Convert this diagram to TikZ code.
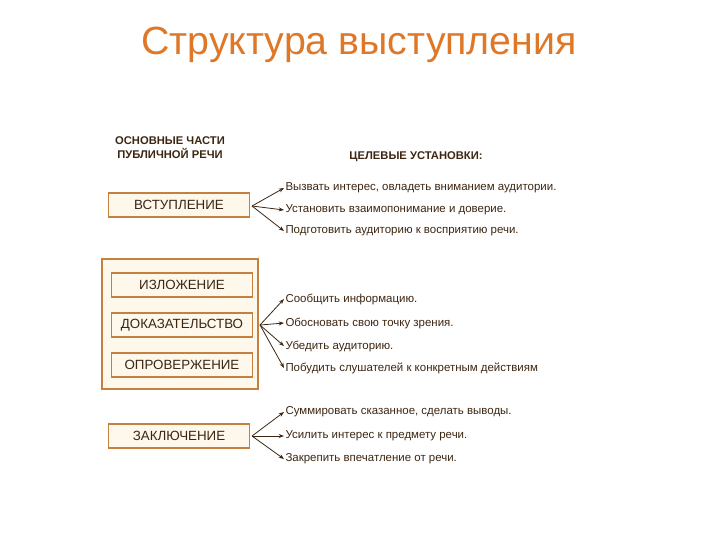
\documentclass[tikz,border=0pt]{standalone}
\usepackage{fontspec}
\setmainfont{Liberation Sans}
\usetikzlibrary{arrows.meta}
\definecolor{boxline}{RGB}{196,128,62}
\definecolor{boxfill}{RGB}{253,247,236}
\definecolor{txt}{RGB}{60,38,18}
\definecolor{titleorange}{RGB}{222,120,40}
\tikzset{every picture/.style={line width=0.75pt}}
\tikzset{
  part/.style={draw=boxline, fill=boxfill, line width=1.2pt, minimum width=106pt, minimum height=18pt, inner sep=0.75pt, text=txt, font=\fontsize{10}{12}\selectfont},
  goal/.style={anchor=west, inner sep=0.75pt, text=txt, font=\fontsize{8.6}{10}\selectfont},
  fan/.style={draw=txt, line width=0.6pt, -{Stealth[length=4pt,width=3pt]}}
}
\begin{document}
\begin{tikzpicture}[x=0.75pt,y=0.75pt,yscale=-1,xscale=1]
	\path (0,0) rectangle (720,540);
	
	% Title
	\node (title) at (359,45) [inner sep=0.75pt, text=titleorange, font=\fontsize{29.5}{34}\selectfont] {Структура выступления};
	
	% Headers
	\node (hparts) at (170,148) [inner sep=0.75pt, align=center, text=txt, font=\fontsize{8.4}{10.5}\selectfont\bfseries] {ОСНОВНЫЕ ЧАСТИ\\ПУБЛИЧНОЙ РЕЧИ};
	\node (hgoals) at (416,157) [inner sep=0.75pt, text=txt, font=\fontsize{8.4}{10}\selectfont\bfseries] {ЦЕЛЕВЫЕ УСТАНОВКИ:};
	
	% Frame of the middle group
	\draw [draw=boxline, fill=boxfill, line width=1.2pt] (102,259) rectangle (258,389);
	
	% Parts
	\node (intro) at (179,205) [part] {ВСТУПЛЕНИЕ};
	\node (expo) at (182,285) [part] {ИЗЛОЖЕНИЕ};
	\node (proof) at (182,325) [part] {ДОКАЗАТЕЛЬСТВО};
	\node (refut) at (182,365) [part] {ОПРОВЕРЖЕНИЕ};
	\node (concl) at (179,436) [part] {ЗАКЛЮЧЕНИЕ};
	
	% Goals
	\node (g1) at (284,188) [goal] {Вызвать интерес, овладеть вниманием аудитории.};
	\node (g2) at (284,210) [goal] {Установить взаимопонимание и доверие.};
	\node (g3) at (284,231) [goal] {Подготовить аудиторию к восприятию речи.};
	\node (g4) at (284,299) [goal] {Сообщить информацию.};
	\node (g5) at (284,323) [goal] {Обосновать свою точку зрения.};
	\node (g6) at (284,346) [goal] {Убедить аудиторию.};
	\node (g7) at (284,368) [goal] {Побудить слушателей к конкретным действиям};
	\node (g8) at (284,412) [goal] {Суммировать сказанное, сделать выводы.};
	\node (g9) at (284,436) [goal] {Усилить интерес к предмету речи.};
	\node (g10) at (284,459) [goal] {Закрепить впечатление от речи.};
	
	% Fans
	\coordinate (f1) at (252,206);
	\coordinate (f2) at (260,325);
	\coordinate (f3) at (252,436);
	\foreach \g in {g1,g2,g3} \draw [fan] (f1) -- (\g.west);
	\foreach \g in {g4,g5,g6,g7} \draw [fan] (f2) -- (\g.west);
	\foreach \g in {g8,g9,g10} \draw [fan] (f3) -- (\g.west);
	
\end{tikzpicture}
\end{document}
